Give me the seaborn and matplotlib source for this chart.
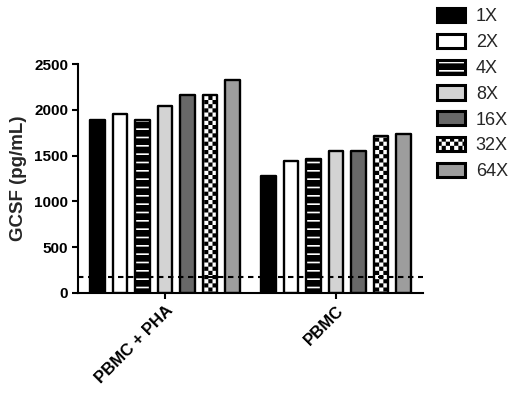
import numpy as np
import pandas as pd
import matplotlib
matplotlib.use("Agg")
import matplotlib.pyplot as plt
import matplotlib.hatch as mhatch
from matplotlib.path import Path
from matplotlib.patches import Patch
import matplotlib.colors as mcolors
import seaborn as sns

# ---------------- data ----------------
groups = ["PBMC + PHA", "PBMC"]
dilutions = ["1X", "2X", "4X", "8X", "16X", "32X", "64X"]
pbmc_pha = [1890, 1950, 1890, 2040, 2160, 2160, 2330]
pbmc = [1280, 1440, 1460, 1550, 1550, 1710, 1740]
lod = 170
yticks = [0, 500, 1000, 1500, 2000, 2500]

# ---------------- custom checkerboard hatch ('O') ----------------
HATCH_LW = 1.2


class CheckerHatch(mhatch.HatchPatternBase):
    def __init__(self, hatch, density):
        self.n = int(hatch.count('O') * density * 4)
        self.num_vertices = (self.n * self.n // 2) * 5 if self.n else 0

    def set_vertices_and_codes(self, vertices, codes):
        n = self.n
        s = 1.0 / n
        inset = (HATCH_LW / 72.0) / 2.0  # unit = 1 inch
        k = 0
        for i in range(n):
            for j in range(n):
                if (i + j) % 2 == 0:
                    x0, y0 = i * s + inset, j * s + inset
                    x1, y1 = (i + 1) * s - inset, (j + 1) * s - inset
                    vertices[k:k + 5] = [[x0, y0], [x1, y0], [x1, y1], [x0, y1], [x0, y0]]
                    codes[k:k + 5] = [Path.MOVETO, Path.LINETO, Path.LINETO,
                                      Path.LINETO, Path.CLOSEPOLY]
                    k += 5


mhatch._hatch_types = [t for t in mhatch._hatch_types
                       if t is not mhatch.LargeCircles] + [CheckerHatch]

# ---------------- styling ----------------
sns.set_style("ticks")
plt.rcParams['font.family'] = ['Liberation Sans', 'DejaVu Sans']
plt.rcParams['hatch.linewidth'] = HATCH_LW

faces = ["#000000", "#ffffff", "#000000", "#d3d3d3", "#686868", "#ffffff", "#9d9d9d"]
hatches = [None, None, "--", None, None, "O", None]
hatch_cols = [None, None, "white", None, None, "black", None]

df = pd.DataFrame({
    "group": np.repeat(groups, len(dilutions)),
    "dilution": dilutions * len(groups),
    "value": pbmc_pha + pbmc,
})

fig = plt.figure(figsize=(5.17, 3.97), dpi=100)
ax = fig.add_axes([78 / 517, (397 - 293) / 397, (423 - 78) / 517, (293 - 64) / 397])

sns.barplot(data=df, x="group", y="value", hue="dilution", order=groups,
            hue_order=dilutions, palette=faces, saturation=1, width=0.92,
            gap=0.34, edgecolor="black", linewidth=1.7, legend=False, ax=ax,
            errorbar=None)

for ci, cont in enumerate(ax.containers):
    for p in cont.patches:
        p.set_joinstyle("round")
        p.set_zorder(2)
        if hatches[ci]:
            p.set_hatch(hatches[ci])
            p._hatch_color = mcolors.to_rgba(hatch_cols[ci])

ax.axhline(lod, color="black", lw=1.5, ls=(0, (2.6, 2.2)), zorder=3)

ax.set_ylim(0, 2500)
ax.set_xlim(-0.509, 1.509)
ax.set_yticks(yticks)
ax.set_yticklabels([str(v) for v in yticks], fontsize=11, fontweight="bold")
ax.set_xticks(range(len(groups)))
ax.set_xticklabels(groups, fontsize=12, fontweight="bold", rotation=45,
                   ha="right", va="top", rotation_mode="anchor")
ax.set_xlabel("")
ax.set_ylabel("GCSF (pg/mL)", fontsize=13.5, fontweight="bold", labelpad=5)
ax.tick_params(axis="both", length=4, width=1.5, pad=3, colors="black")
for sp in ["left", "bottom"]:
    ax.spines[sp].set_linewidth(1.5)
    ax.spines[sp].set_color("black")
sns.despine(ax=ax)

handles = []
for ci, lab in enumerate(dilutions):
    h = Patch(facecolor=faces[ci], edgecolor="black", linewidth=2.2,
              hatch=hatches[ci], label=lab, joinstyle="round")
    if hatches[ci]:
        h._hatch_color = mcolors.to_rgba(hatch_cols[ci])
    handles.append(h)

fig.legend(handles=handles, loc="upper left", bbox_to_anchor=(437 / 517, 1 - 8 / 397),
           frameon=False, fontsize=13, handlelength=1.55, handleheight=0.83,
           handletextpad=0.6, labelspacing=0.47, borderpad=0, borderaxespad=0)

fig.savefig("out.png", dpi=100)
